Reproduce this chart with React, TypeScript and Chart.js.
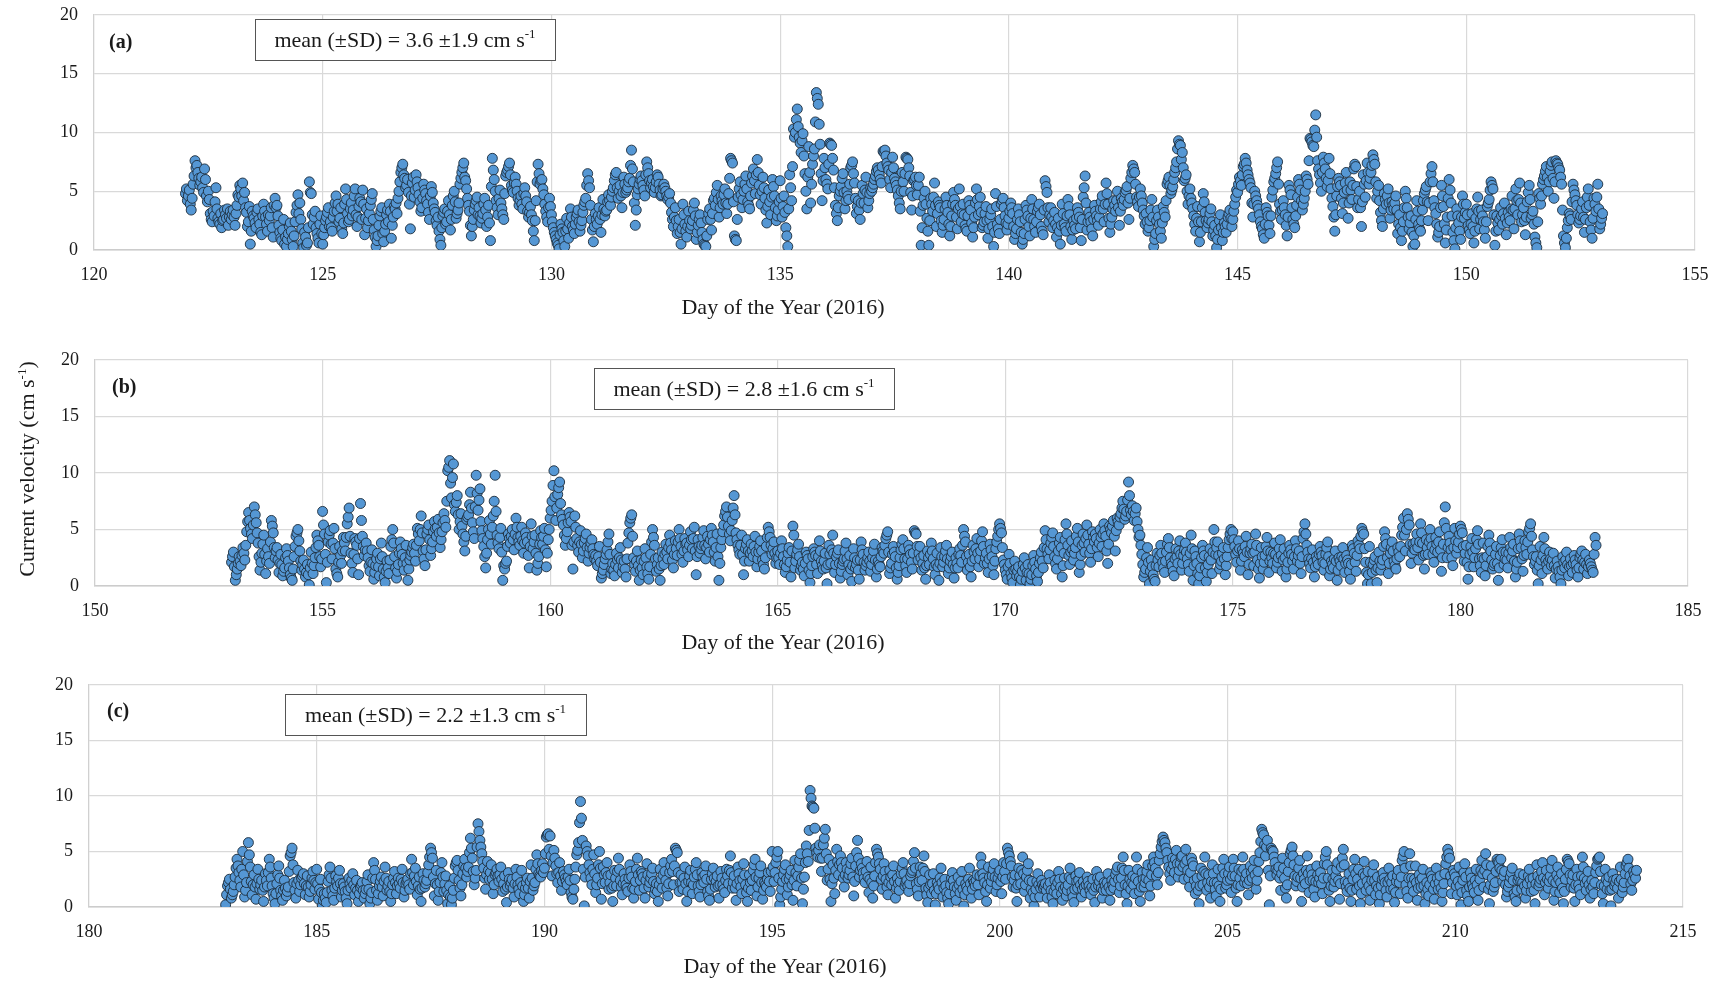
import React, { useEffect, useRef } from "react";
import { Chart, registerables } from "chart.js";

Chart.register(...registerables);

const FONT = "'Liberation Serif', 'Times New Roman', Times, serif";
const TEXT_COLOR = "#1a1a1a";

// ---------- Text ----------
const panelLabels = ["(a)", "(b)", "(c)"];
const meanTexts = ["mean (±SD) = 3.6 ±1.9 cm s", "mean (±SD) = 2.8 ±1.6 cm s", "mean (±SD) = 2.2 ±1.3 cm s"];
const unitSup = "-1";
const xAxisTitle = "Day of the Year (2016)";
const yAxisTitle = "Current velocity (cm s";
const yAxisTitleEnd = ")";

// ---------- Axes ----------
const xMins = [120, 150, 180];
const xMaxs = [155, 185, 215];
const xStep = 5;
const yMin = 0;
const yMax = 20;
const yStep = 5;

// ---------- Series (half-hourly current velocity, cm/s) ----------
const seriesStartDays = [122, 153, 183];
const samplesPerDay = 24; // on-the-hour arrays; "Half" arrays are the :30 readings

// Panel (a) – on the hour
const velocityA = [
  4.8,4.2,5.1,3.4,5.6,7.6,7.2,6.1,5.8,5.3,6.9,4.6,5.0,3.1,2.4,2.9,5.3,2.7,2.2,1.9,2.6,3.0,3.5,2.8,
  2.6,3.4,2.1,3.8,4.5,5.2,5.7,4.9,3.2,2.4,0.5,3.3,2.7,1.9,3.5,2.2,1.3,3.9,2.8,1.6,2.5,3.6,1.1,4.4,
  3.8,2.1,1.0,1.7,0.5,0.3,1.4,2.3,0.9,1.2,3.2,4.7,4.0,1.8,0.2,1.1,0.6,5.8,4.8,2.2,3.3,1.4,0.6,2.9,
  0.5,1.9,2.8,3.6,2.4,1.6,3.3,4.6,3.9,2.7,1.8,2.3,5.2,3.1,2.6,4.0,3.4,5.2,2.0,3.7,4.1,5.1,1.3,3.5,
  2.5,3.8,4.8,1.7,0.3,1.2,2.9,3.6,0.7,2.2,3.4,3.9,1.0,2.8,3.5,3.1,5.0,6.6,7.3,6.1,5.5,4.9,1.8,5.7,
  4.5,6.4,5.3,4.1,3.6,5.6,4.8,3.9,2.6,5.4,4.0,3.2,2.1,1.6,0.4,2.9,3.5,2.4,4.2,1.7,3.8,5.0,2.7,3.4,
  5.6,6.6,7.4,5.9,4.4,3.3,1.2,2.6,3.9,4.5,3.6,2.3,3.1,4.4,2.0,3.8,0.8,7.8,6.0,4.2,3.0,5.1,3.5,2.6,
  6.3,6.8,7.4,5.5,4.9,6.2,5.0,3.8,4.6,3.5,5.3,4.1,2.8,3.7,2.5,0.8,4.2,7.3,5.6,6.0,4.7,3.3,2.4,4.4,
  3.0,1.9,1.2,0.6,0.1,2.2,1.5,0.3,2.7,1.0,3.5,2.0,1.4,2.8,3.4,1.6,2.5,3.8,4.4,6.5,5.3,2.6,0.7,3.1,
  2.2,3.6,1.5,4.3,2.9,3.4,4.7,3.8,5.0,5.9,6.6,4.4,5.5,3.6,6.2,4.9,5.3,6.1,8.5,5.8,2.1,4.7,5.6,6.3,
  5.5,4.6,7.5,6.5,5.3,6.0,4.9,5.8,6.2,5.1,4.7,5.6,5.0,4.3,4.8,3.2,2.0,3.6,1.4,2.6,0.5,3.9,2.2,1.1,
  3.3,1.8,2.5,4.0,0.9,2.1,3.0,1.5,0.5,0.3,2.6,3.5,1.7,4.2,3.8,5.5,2.8,4.6,3.9,5.2,3.1,4.8,7.8,7.4,
  1.2,0.8,4.5,5.8,3.6,5.0,6.3,4.1,3.5,5.7,6.9,4.8,7.7,5.5,3.9,6.2,4.4,2.3,5.1,3.0,6.0,4.6,2.5,3.4,
  5.9,2.8,4.6,1.9,0.3,6.4,4.2,10.3,10.0,12.0,9.6,8.3,9.9,6.5,3.5,8.8,4.0,7.3,8.6,13.4,12.4,9.0,4.2,7.8,
  6.0,5.2,9.1,8.9,6.8,3.8,2.5,4.6,5.4,6.5,3.5,5.0,4.3,7.0,7.5,5.7,3.1,4.2,2.6,5.5,4.0,6.2,3.6,4.8,
  5.0,5.6,6.3,7.0,6.4,5.7,8.4,8.5,7.4,6.8,5.3,7.9,6.1,5.5,4.6,3.5,6.6,5.0,7.9,7.7,6.3,3.4,5.9,6.2,
  4.7,6.2,0.4,3.8,5.0,2.7,0.4,4.4,3.3,5.7,2.0,4.1,3.6,1.5,2.6,4.5,3.2,1.2,2.9,4.9,3.8,1.8,5.2,2.4,
  3.9,2.1,1.6,4.2,3.4,1.1,2.8,5.2,3.0,4.5,1.9,2.4,3.7,1.0,2.6,3.5,0.3,4.8,2.2,1.4,3.9,4.4,2.9,1.7,
  2.7,4.0,3.1,0.9,1.8,3.5,2.4,0.5,1.4,3.8,2.9,1.2,4.3,2.6,1.5,3.3,3.9,2.0,1.3,5.9,4.9,2.4,3.6,1.9,
  3.2,1.1,2.7,0.5,3.9,2.2,1.6,4.3,3.0,0.9,2.5,1.8,3.6,2.8,0.8,4.5,6.3,1.7,3.2,2.4,1.2,3.8,2.9,2.1,
  3.5,4.6,2.4,5.7,3.9,1.5,2.8,4.2,3.3,5.0,2.1,4.4,3.8,4.9,5.4,2.6,6.1,7.2,6.6,4.5,3.7,5.2,4.0,2.9,
  3.1,1.6,2.5,4.3,0.3,1.4,3.4,2.2,1.0,3.7,2.8,5.6,6.2,4.8,5.4,6.6,7.5,9.3,8.9,8.3,5.9,6.4,3.9,5.2,
  4.0,2.9,1.6,3.7,0.7,2.4,4.8,3.2,1.9,2.6,3.5,1.2,2.1,0.2,1.7,3.0,0.8,2.3,1.5,2.8,3.4,2.0,3.3,4.5,
  4.9,6.2,5.5,7.1,7.8,6.8,6.0,5.3,2.8,5.0,4.2,3.5,2.4,1.8,1.0,3.6,2.9,1.4,4.5,5.8,6.5,7.5,3.9,2.6,
  4.2,3.0,1.2,5.5,4.7,2.6,1.9,3.8,6.0,5.1,3.4,4.4,6.3,5.6,9.5,9.2,8.8,11.5,7.6,6.4,5.0,7.9,6.9,5.4,
  7.8,5.2,3.7,1.6,4.6,6.1,5.5,3.1,4.9,6.6,2.7,5.8,4.3,6.9,7.1,3.6,5.0,2.0,6.4,4.5,7.4,5.6,6.6,8.1,
  7.3,4.4,5.5,3.2,2.0,4.8,3.9,5.2,2.7,4.1,3.5,4.6,1.4,3.0,0.8,2.4,5.0,3.6,1.8,2.9,0.3,0.5,4.2,2.2,
  1.6,3.4,4.8,5.4,2.5,5.8,7.1,4.2,3.1,1.1,2.0,5.5,3.7,0.6,2.8,6.0,4.0,1.5,0.1,3.5,2.3,0.9,4.6,2.7,
  3.9,2.1,1.4,3.1,0.6,2.7,4.5,1.8,3.4,2.4,1.0,3.7,4.3,5.8,5.2,0.4,2.9,1.7,3.6,2.2,4.0,1.3,3.2,2.5,
  4.6,1.8,5.2,3.0,5.7,2.4,3.6,1.3,4.1,5.5,2.7,3.3,1.1,0.2,4.8,3.9,5.6,6.3,7.1,5.0,6.7,7.5,4.4,7.6,
  7.3,6.8,5.6,1.2,0.2,1.9,3.1,2.6,5.6,4.7,3.8,2.3,2.9,4.1,1.5,3.6,5.2,2.4,1.0,4.4,3.3,5.6,1.8,2.7,
];
// Panel (a) – half past the hour
const velocityAHalf = [
  5.2,4.6,3.9,4.4,6.3,7.0,6.6,5.5,6.2,4.9,6.0,4.1,4.3,2.6,3.3,4.1,3.5,2.4,3.1,2.5,3.4,2.7,2.1,3.3,
  3.0,2.8,3.1,4.7,5.5,4.6,4.2,3.6,2.0,3.7,1.6,2.9,2.3,3.2,2.6,1.5,2.9,3.3,2.2,3.0,2.9,1.9,3.8,3.6,
  2.9,1.5,0.8,2.6,1.1,0.9,2.0,1.6,0.3,2.4,3.8,3.1,2.6,0.6,1.5,0.4,1.9,4.9,3.0,2.8,1.9,1.0,2.2,1.4,
  1.3,2.5,3.2,2.0,1.9,2.8,4.0,3.3,2.4,3.6,1.4,3.9,4.3,2.4,3.5,2.9,4.6,3.0,2.8,4.4,2.6,3.9,2.7,1.9,
  3.1,4.3,2.6,1.1,0.8,2.1,3.3,1.4,1.6,3.0,2.4,3.3,2.1,3.7,4.0,4.4,5.8,7.0,6.4,5.3,6.0,3.9,4.6,6.2,
  5.1,5.8,4.7,3.3,4.4,5.1,4.2,3.2,4.6,4.9,3.5,2.5,2.8,0.9,1.9,3.2,2.2,3.3,3.0,2.6,4.6,4.1,3.1,4.0,
  6.1,7.0,6.2,5.2,3.8,2.1,2.0,3.4,4.2,3.0,2.9,2.7,3.9,3.4,2.8,2.3,5.4,6.8,5.0,3.6,4.4,4.0,3.0,4.8,
  6.6,7.1,6.4,5.1,5.7,5.6,4.4,4.2,3.9,4.8,4.6,3.3,3.2,3.0,1.6,2.5,5.8,6.5,5.9,5.2,3.9,2.8,3.6,3.7,
  2.4,1.5,0.9,0.4,1.3,1.8,0.8,1.6,1.8,2.3,2.8,1.7,2.2,3.1,2.4,2.1,3.2,4.1,5.5,5.9,3.8,1.7,2.0,2.6,
  2.9,2.6,3.0,3.5,3.3,4.1,4.2,4.5,5.3,6.4,5.3,5.0,4.6,4.9,5.6,5.1,5.8,7.2,6.9,4.0,3.4,5.2,6.0,5.9,
  5.1,6.4,7.0,5.9,5.7,5.4,5.3,6.4,5.6,4.6,5.2,5.3,4.6,4.5,4.0,2.6,2.8,2.5,2.0,1.5,1.8,3.0,1.6,2.0,
  2.5,2.1,3.4,2.9,1.5,2.6,2.3,0.9,0.4,1.2,3.1,2.6,3.1,4.4,4.9,4.3,3.6,4.2,4.7,4.0,3.9,6.1,7.6,4.1,
  0.9,2.6,5.2,4.7,4.3,5.6,5.2,3.8,4.6,6.3,5.9,6.4,6.6,4.7,5.0,5.3,3.4,3.7,4.1,4.5,5.4,3.6,2.9,4.1,
  4.4,3.7,3.2,1.2,3.5,5.3,7.1,9.6,11.1,10.5,9.1,9.3,8.0,5.0,6.2,6.6,5.6,8.0,10.9,12.9,10.7,6.5,5.9,7.0,
  5.6,7.3,9.0,7.8,5.3,3.1,3.6,5.0,6.1,4.9,4.2,4.6,5.6,7.2,6.5,4.4,3.7,3.4,4.0,4.8,5.1,4.9,4.2,5.3,
  5.3,6.0,6.7,6.8,6.0,7.1,8.3,8.0,7.1,6.0,6.6,7.0,5.8,5.1,4.0,5.0,5.8,6.5,7.8,7.0,4.9,4.6,6.0,5.5,
  5.5,3.3,1.9,4.4,3.9,1.6,2.5,3.9,4.5,3.8,3.1,3.8,2.5,2.1,3.5,3.8,2.2,2.0,3.9,4.3,2.8,3.5,3.7,3.1,
  3.0,1.8,2.9,3.8,2.3,1.9,4.0,4.3,3.7,3.2,2.1,3.1,2.5,1.8,3.0,2.0,1.5,3.7,1.8,2.6,4.2,3.6,2.3,2.2,
  3.3,3.6,2.0,1.4,2.6,3.0,1.5,0.9,2.6,3.4,2.0,2.7,3.5,2.0,2.4,3.6,3.0,1.6,3.4,5.4,3.6,3.0,2.8,2.5,
  2.2,1.9,1.6,2.1,3.1,1.9,2.9,3.7,2.0,1.7,2.1,2.7,3.2,1.9,2.6,5.3,4.0,2.4,2.8,1.8,2.6,3.3,2.5,2.8,
  4.1,3.5,3.9,4.8,2.7,2.2,3.5,3.8,4.2,3.6,3.3,4.1,4.3,5.1,4.0,4.4,6.6,6.9,5.6,4.1,4.5,4.6,3.4,2.2,
  2.4,1.9,3.4,2.8,0.9,2.5,2.8,1.6,2.3,3.2,4.2,5.9,5.5,5.1,6.0,7.0,8.6,9.0,7.7,7.0,6.1,5.0,4.6,4.4,
  3.5,2.2,2.7,2.4,1.5,3.6,4.1,2.5,2.3,3.1,2.4,1.7,1.2,0.9,2.5,1.9,1.5,2.0,2.2,3.1,2.7,2.6,3.9,5.1,
  5.6,5.9,6.4,7.3,7.4,6.4,5.7,4.0,3.9,4.6,3.8,3.0,2.0,1.3,2.2,3.2,2.1,2.9,5.1,6.1,7.0,5.6,3.3,3.4,
  3.6,2.1,2.8,5.1,3.6,2.2,2.9,4.5,5.6,4.2,3.9,5.0,6.0,7.6,9.4,8.9,10.2,9.6,6.9,5.7,6.6,7.4,6.1,5.9,
  6.5,4.4,2.8,3.0,5.4,5.8,4.4,4.0,5.7,5.1,4.0,5.1,5.5,7.3,5.4,4.3,3.6,4.1,5.6,5.9,6.6,6.1,7.2,7.7,
  5.8,5.0,4.2,2.5,3.5,4.3,4.6,4.0,3.4,3.8,4.0,3.4,2.2,1.9,1.6,3.6,4.4,2.8,2.3,1.5,1.2,2.6,3.3,1.8,
  2.5,4.2,5.1,4.1,4.0,6.5,5.8,3.6,2.2,1.5,3.6,4.6,2.2,1.7,4.4,5.1,2.9,0.8,1.9,2.9,1.6,2.8,3.9,3.2,
  3.0,1.7,2.2,2.0,1.6,3.5,3.3,2.6,2.9,1.7,2.4,4.0,5.1,5.5,3.0,1.6,2.3,2.6,2.9,3.1,2.7,2.3,2.8,3.5,
  3.4,3.5,4.2,4.3,4.0,3.0,2.5,2.8,4.9,4.3,3.0,2.2,0.6,2.4,4.4,4.6,6.0,6.7,6.2,5.8,7.2,6.1,5.8,7.4,
  7.0,6.2,3.4,0.6,1.0,2.5,2.9,4.1,5.1,4.2,3.0,2.6,3.5,2.8,2.6,4.5,3.8,1.7,2.7,3.9,4.5,3.5,2.2,3.1,
];

// Panel (b) – on the hour
const velocityB = [
  2.1,3.0,0.5,1.5,2.6,1.8,3.4,2.3,4.8,6.5,5.1,4.2,7.0,5.6,3.8,1.4,2.9,4.5,1.1,3.3,2.0,5.8,4.7,2.5,
  3.4,1.2,2.8,0.9,1.6,3.3,2.2,1.0,0.5,2.6,4.4,5.0,3.1,1.4,2.3,0.8,1.9,0.1,3.0,1.1,2.5,4.5,3.6,1.7,
  6.6,4.6,0.3,3.9,4.9,2.4,5.1,1.5,0.8,3.5,2.0,4.3,3.1,5.5,6.9,2.9,1.2,4.2,3.6,1.0,7.3,4.4,2.7,3.8,
  2.5,1.3,3.2,0.6,1.8,2.9,0.9,3.8,1.5,0.3,2.2,1.1,3.5,5.0,2.6,0.7,1.9,3.9,2.8,1.4,3.6,0.5,2.3,3.0,
  3.7,2.2,5.1,4.0,6.2,3.1,1.8,4.6,5.4,2.7,3.9,5.7,4.4,5.9,3.4,4.8,6.4,5.2,10.2,11.1,7.8,10.8,6.6,8.0,
  5.0,6.4,4.6,3.1,5.9,6.3,8.3,5.6,4.2,9.8,6.7,8.6,4.9,3.5,1.6,4.1,5.8,3.7,6.2,9.8,4.5,3.3,5.1,0.5,
  1.5,2.2,4.6,3.8,5.0,3.2,6.0,4.3,3.6,5.2,2.9,4.7,3.9,1.6,5.5,3.3,4.5,1.4,2.6,4.9,3.7,5.1,1.7,4.1,
  6.0,7.5,10.2,5.8,8.1,9.2,6.3,5.4,3.6,4.8,6.5,5.7,1.5,6.2,4.2,3.0,4.9,2.5,3.8,4.6,2.2,3.4,4.1,2.8,
  2.7,1.8,3.5,0.7,1.4,2.4,3.2,4.6,1.1,2.0,0.9,2.9,1.6,3.4,1.2,2.2,0.8,3.8,5.6,6.3,2.5,1.3,3.1,0.5,
  2.3,1.0,3.3,1.7,0.6,2.8,5.0,3.6,1.3,2.5,0.5,3.0,1.9,3.7,2.4,4.5,3.2,1.6,4.0,2.7,5.0,3.5,2.1,4.2,
  3.8,2.6,4.8,3.3,5.2,1.0,4.1,2.9,3.6,4.9,2.4,4.4,3.0,5.1,3.9,2.2,4.6,0.5,3.4,4.8,6.2,7.0,5.3,4.0,
  5.8,8.0,4.7,3.6,2.8,4.5,1.0,3.3,4.1,2.2,3.7,2.6,4.4,1.7,3.0,4.0,2.3,1.5,3.5,5.2,4.3,2.8,3.9,2.0,
  3.1,1.9,4.0,2.6,1.2,2.3,3.4,0.8,5.3,1.6,2.8,3.7,1.4,2.1,0.9,3.0,2.4,0.3,1.8,3.3,2.7,1.1,4.0,2.2,
  1.5,2.9,0.2,3.6,2.0,4.5,1.2,2.6,3.2,0.7,1.9,2.4,3.8,1.0,2.7,0.4,3.3,1.6,2.3,0.6,3.9,2.8,1.4,2.1,
  3.0,1.3,2.5,3.7,0.8,2.2,1.7,3.4,2.9,4.2,4.8,1.1,2.0,3.5,2.6,0.6,1.8,3.2,4.1,2.4,1.2,3.6,2.8,1.5,
  4.9,4.6,2.3,3.5,1.4,2.7,0.6,3.1,1.9,3.8,2.4,1.0,2.9,0.5,3.4,1.7,2.6,3.6,1.1,2.2,3.0,0.7,2.5,1.6,
  3.3,2.1,5.0,3.9,1.4,2.8,0.8,3.6,2.4,4.2,1.7,3.1,4.8,2.0,2.9,1.2,3.7,2.6,1.0,3.3,4.4,5.5,4.7,2.3,
  1.4,0.6,2.8,1.1,0.3,2.2,0.9,1.7,0.1,1.3,2.5,0.5,1.9,0.2,1.0,2.7,1.5,0.4,2.0,3.0,1.6,4.9,3.3,2.4,
  3.8,4.7,2.6,1.5,3.1,4.3,0.8,2.9,5.5,3.6,1.9,4.0,2.3,3.4,5.1,1.2,2.7,4.6,3.0,5.4,3.7,2.1,4.8,3.9,
  4.2,2.6,5.0,3.5,5.5,4.4,2.0,5.3,4.7,5.8,3.1,6.0,5.4,6.4,7.5,5.9,6.6,9.2,6.7,7.1,5.8,6.9,5.0,4.5,
  2.8,0.8,1.5,3.4,0.2,2.3,1.0,0.4,2.9,1.7,3.6,2.1,1.2,3.0,4.2,2.5,1.8,0.9,3.3,2.0,4.0,1.4,2.7,3.8,
  2.4,1.3,4.5,0.5,3.1,2.0,0.2,1.6,3.6,2.7,0.4,1.9,3.3,1.1,5.0,2.8,3.9,1.5,2.2,3.4,1.0,2.6,4.1,5.0,
  4.8,3.5,2.1,4.0,1.4,3.2,2.6,4.4,1.0,2.9,3.7,1.8,4.6,2.3,0.7,3.4,1.5,2.7,4.3,1.2,3.0,2.0,3.8,1.6,
  2.5,4.1,1.3,3.3,0.8,2.1,3.6,2.8,1.5,4.0,2.2,3.1,1.1,4.2,5.5,3.6,2.4,1.6,3.2,0.8,2.6,1.9,3.5,2.7,
  1.4,2.8,3.9,0.9,2.2,1.6,3.1,0.5,2.5,1.8,3.4,1.2,2.7,2.0,0.6,3.6,2.9,1.3,4.0,3.3,5.1,4.6,2.1,0.2,
  3.5,0.2,1.9,2.6,0.3,3.0,1.4,2.3,4.8,3.7,1.1,2.9,3.9,2.2,1.5,3.4,2.6,4.5,6.0,3.1,6.4,5.4,2.0,3.7,
  3.2,4.6,2.3,5.5,3.8,1.5,4.1,2.8,5.0,3.5,2.1,4.3,3.0,4.8,1.3,3.7,7.0,2.5,4.4,3.2,1.8,5.1,2.9,3.9,
  5.3,4.7,2.2,3.6,0.6,2.8,4.2,1.7,3.3,4.9,2.4,1.2,3.8,0.9,2.6,4.5,3.1,1.5,2.0,3.5,0.5,2.7,4.1,1.9,
  3.0,1.6,4.3,2.5,3.7,0.8,2.1,4.6,3.4,1.3,4.0,2.8,4.8,5.5,3.2,1.9,2.6,0.2,3.5,1.1,4.3,2.3,1.5,3.0,
  1.8,2.9,0.7,2.2,1.3,0.2,2.6,1.6,3.0,0.9,2.4,1.2,2.7,1.9,0.8,2.5,3.1,1.5,2.8,1.1,2.3,1.7,1.2,4.3,
];
// Panel (b) – half past the hour
const velocityBHalf = [
  2.6,1.7,1.0,2.0,2.2,2.7,2.9,3.6,5.7,5.8,4.6,5.4,6.3,4.7,2.6,2.1,3.7,2.8,2.2,2.6,3.9,5.3,3.4,3.1,
  2.3,2.0,1.9,1.3,2.5,2.7,1.6,0.7,1.5,3.5,4.7,4.0,2.2,1.9,1.5,1.2,1.0,1.6,2.0,1.8,3.4,4.0,2.6,2.4,
  5.4,2.8,2.1,4.5,3.7,3.8,3.3,1.1,2.1,2.7,3.1,3.8,4.3,6.1,4.4,2.0,2.8,3.9,2.4,4.2,5.8,3.5,3.2,3.1,
  1.8,2.1,2.0,1.2,2.4,1.7,2.4,2.6,0.8,1.3,1.6,2.3,4.1,3.8,1.6,1.3,2.9,3.3,2.0,2.5,2.0,1.5,2.7,3.4,
  2.9,3.6,4.6,5.0,4.7,2.4,3.2,5.0,4.1,3.3,4.8,5.1,5.2,4.7,4.1,5.6,5.8,7.5,10.5,9.1,9.6,7.2,7.4,6.3,
  5.7,5.3,3.9,4.4,6.1,7.2,6.9,4.8,7.0,8.2,7.6,5.7,4.2,2.6,2.9,5.0,4.6,5.2,7.5,6.6,3.8,4.3,3.0,1.8,
  2.0,3.5,4.2,4.4,4.1,4.6,5.2,3.9,4.4,4.0,3.8,4.3,2.7,3.5,4.4,3.9,2.9,2.0,3.7,4.3,4.4,3.2,2.9,5.0,
  6.7,8.9,7.9,6.9,8.7,7.3,5.9,4.5,4.2,5.6,6.1,3.6,3.9,5.2,3.6,3.9,3.7,3.1,4.2,3.4,2.9,3.8,3.3,2.4,
  2.2,2.6,2.1,1.1,1.9,2.8,3.9,2.8,1.5,1.4,1.9,2.3,2.5,2.3,1.7,1.5,2.4,4.7,6.0,4.4,1.9,2.2,1.8,1.4,
  1.6,2.2,2.5,1.1,1.7,3.9,4.3,2.4,1.9,1.5,1.8,2.4,2.8,3.0,3.4,3.8,2.3,2.8,3.3,3.9,4.2,2.8,3.1,3.7,
  3.2,3.6,4.1,4.2,3.1,2.6,3.5,3.3,4.3,3.6,3.4,3.7,4.1,4.5,3.0,3.4,2.6,2.0,4.1,5.4,6.6,6.1,4.6,4.9,
  6.9,6.3,4.1,3.2,3.6,2.8,2.2,3.7,3.1,2.9,3.1,3.5,3.0,2.4,3.5,3.1,1.9,2.5,4.3,4.8,3.6,3.3,2.9,2.5,
  2.5,2.9,3.3,1.9,1.7,2.9,2.1,3.1,4.5,2.2,3.2,2.6,1.8,1.5,2.0,2.7,1.4,1.1,2.6,3.0,1.9,2.6,3.1,1.8,
  2.2,1.6,1.9,2.8,3.2,2.9,1.9,2.9,2.0,1.3,2.2,3.1,2.4,1.9,1.5,1.8,2.5,1.9,1.4,2.3,3.2,2.1,1.8,2.5,
  2.2,1.9,3.1,2.3,1.5,1.9,2.6,3.1,3.6,4.5,3.0,1.6,2.8,3.0,1.6,1.2,2.5,3.7,3.3,1.8,2.4,3.2,2.1,2.9,
  4.7,3.5,2.9,2.5,2.0,1.6,1.8,2.5,2.8,3.1,1.7,1.9,1.7,2.0,2.6,2.1,3.1,2.4,1.6,2.6,1.9,1.6,2.0,2.8,
  2.7,3.6,4.4,2.6,2.1,1.7,2.2,3.0,3.3,2.9,2.4,4.0,3.5,2.5,2.0,2.4,3.2,1.8,2.2,3.9,5.0,5.1,3.4,1.9,
  1.0,1.7,2.0,0.7,1.4,1.5,1.3,0.8,0.6,1.9,1.6,1.2,1.1,0.6,1.8,2.1,0.9,1.2,2.5,2.2,3.4,4.1,2.8,3.2,
  4.3,3.5,2.0,2.4,3.8,3.4,1.8,4.1,4.6,2.7,3.0,3.2,2.9,4.4,3.9,1.9,3.6,3.8,4.2,4.5,2.9,3.3,4.3,4.6,
  3.4,3.8,4.3,4.6,4.9,3.1,3.7,5.0,5.3,4.4,4.9,5.7,6.1,6.9,6.8,6.2,7.6,8.0,6.3,6.6,6.4,5.7,4.3,3.6,
  1.9,1.2,2.5,2.1,1.3,1.7,0.6,1.8,2.3,2.7,2.9,1.6,2.2,3.7,3.4,2.0,1.3,2.4,2.6,3.1,2.8,2.0,3.2,3.0,
  1.9,2.9,3.3,1.8,2.6,1.1,0.9,2.5,3.1,1.6,1.2,2.6,2.3,3.0,3.9,3.4,2.7,1.9,2.9,2.4,1.8,3.4,4.6,4.2,
  4.1,2.8,3.1,3.3,2.2,2.9,3.5,3.0,1.9,3.3,2.9,3.0,3.6,1.5,2.0,2.6,2.1,3.5,3.1,2.2,2.5,2.9,2.8,2.1,
  3.3,2.7,2.3,2.5,1.5,2.9,3.2,2.2,2.6,3.3,2.7,2.0,2.6,4.8,4.6,3.0,2.0,2.4,2.1,1.7,2.3,2.8,3.0,2.1,
  2.0,3.4,2.6,1.5,1.9,2.4,2.2,1.4,2.2,2.6,2.4,2.0,2.3,1.3,1.9,3.3,2.1,2.7,3.6,4.4,4.8,3.3,1.2,1.0,
  2.1,1.2,2.3,1.4,1.6,2.2,1.9,3.5,4.2,2.5,2.0,3.4,3.1,1.8,2.4,3.0,3.5,5.2,4.5,5.0,5.9,3.7,2.9,3.3,
  3.9,3.4,3.9,4.7,2.7,2.8,3.4,3.9,4.2,2.8,3.2,3.7,3.9,3.2,2.5,5.6,5.1,3.4,3.8,2.5,3.4,4.0,3.4,4.6,
  5.0,3.5,2.9,2.1,1.7,3.5,3.0,2.5,4.1,3.7,1.8,2.5,2.4,1.8,3.5,3.8,2.3,1.8,2.8,2.0,1.6,3.4,3.0,2.4,
  2.3,2.9,3.4,3.1,2.2,1.5,3.3,4.0,2.4,2.7,3.4,3.9,5.1,4.4,2.6,2.2,1.4,1.8,2.3,2.7,3.3,1.9,2.2,2.4,
  2.3,1.8,1.5,1.7,0.8,1.4,2.1,2.3,1.9,1.7,1.8,2.0,2.3,1.4,1.6,2.8,2.3,2.1,1.9,1.7,2.0,1.4,2.8,3.6,
];

// Panel (c) – on the hour
const velocityC = [
  0.2,1.9,2.5,0.8,1.4,2.7,4.3,3.1,1.8,5.0,0.9,2.2,5.8,3.6,1.1,2.9,0.7,3.4,1.6,2.4,0.5,3.0,1.9,4.3,
  2.6,1.2,0.3,2.1,3.7,1.5,0.6,2.4,1.0,1.8,4.6,5.3,2.2,0.8,3.3,1.4,2.6,3.0,1.1,2.8,0.9,2.0,3.2,1.6,
  3.4,0.7,2.5,0.1,1.2,0.4,2.3,3.6,1.5,0.6,2.8,1.9,3.3,0.9,2.1,1.4,0.3,2.6,1.7,3.0,1.1,2.4,0.5,1.8,
  2.2,0.8,1.6,2.9,0.3,1.3,4.0,2.5,0.6,1.9,2.7,1.0,3.6,1.5,2.3,0.5,2.0,3.2,1.2,2.6,1.7,3.4,0.9,2.1,
  2.5,1.6,4.3,2.0,3.5,1.1,2.7,0.5,3.0,1.8,2.4,3.8,5.3,4.4,1.0,3.3,0.6,2.2,4.0,1.4,2.8,0.3,1.9,0.2,
  1.5,3.7,4.2,2.4,1.0,3.0,4.3,2.7,3.6,6.2,4.4,2.0,3.3,7.5,6.0,4.8,3.5,1.6,4.1,2.5,3.8,1.2,2.9,3.4,
  2.3,3.6,1.4,2.8,0.4,3.1,1.9,2.5,0.9,3.4,2.0,1.2,3.3,0.5,1.7,2.6,0.8,3.8,1.5,2.2,4.7,3.0,2.7,3.9,
  3.5,6.3,6.6,6.4,2.8,5.1,3.7,2.2,4.0,1.5,3.2,2.6,2.0,3.4,1.3,0.7,2.5,4.7,5.8,9.5,6.0,0.1,5.5,4.6,
  3.1,2.0,4.7,1.3,2.6,5.0,0.7,3.6,2.2,4.0,1.6,2.9,0.5,3.3,1.9,4.4,2.4,1.1,3.0,2.0,1.4,3.8,2.7,0.8,
  2.3,4.4,1.5,3.2,2.7,0.8,3.9,1.8,2.6,3.5,1.2,2.1,0.5,3.4,1.7,4.0,2.4,1.0,3.1,4.3,2.0,5.3,4.9,1.4,
  2.9,1.6,3.6,0.5,2.3,3.3,1.2,2.7,4.0,1.9,0.9,3.1,2.2,3.7,1.4,0.6,2.5,3.5,1.8,2.8,0.8,3.2,2.0,1.3,
  3.4,2.1,4.6,1.7,2.8,0.6,3.6,2.4,1.2,3.9,2.0,0.5,2.9,1.5,3.3,4.3,1.0,2.6,3.7,0.7,2.2,1.8,3.1,1.4,
  5.0,2.3,4.0,5.0,0.2,1.6,2.9,3.8,1.1,2.5,3.3,0.6,4.2,1.9,3.6,4.8,0.3,2.7,5.5,4.1,10.5,9.1,8.9,5.3,
  4.5,5.6,3.2,5.6,7.0,2.4,4.3,0.5,3.8,1.2,5.2,2.9,4.6,3.5,1.8,4.0,2.6,3.3,4.4,1.0,3.7,6.0,2.7,3.9,
  3.1,2.2,4.1,1.3,3.6,0.8,2.8,5.2,4.5,3.4,1.6,3.9,2.5,1.1,3.3,2.0,3.7,0.8,2.6,1.5,3.0,4.0,1.9,2.4,
  1.4,2.8,3.3,4.9,2.1,1.0,3.6,2.4,4.6,1.7,0.4,2.9,1.2,3.0,0.2,2.2,1.6,3.5,0.9,2.5,1.3,0.3,2.0,3.1,
  1.8,0.6,2.7,1.3,3.2,0.1,2.1,1.5,3.5,0.8,2.4,1.9,2.9,1.1,4.5,3.0,2.2,0.5,3.6,1.7,2.8,3.9,1.4,2.6,
  3.3,1.2,4.0,2.5,5.3,4.6,3.7,1.8,2.9,0.5,3.5,2.1,4.5,1.4,2.7,3.9,0.8,2.3,0.1,1.6,3.0,0.9,2.4,1.7,
  2.1,0.8,2.9,1.5,0.3,2.4,1.2,3.2,1.8,0.6,2.6,1.0,2.0,3.5,1.4,0.4,2.8,1.7,3.1,0.9,2.3,1.3,2.7,1.9,
  1.1,2.5,0.4,3.2,1.9,2.7,0.8,2.2,1.5,3.0,0.6,2.4,1.7,2.9,3.6,1.3,2.6,4.5,2.0,0.3,3.3,1.6,2.8,1.2,
  4.5,2.3,0.5,3.1,1.8,2.6,3.8,1.0,2.9,4.5,3.5,2.0,4.2,5.4,6.3,5.8,4.9,3.6,2.4,4.4,3.1,5.1,2.7,3.9,
  4.6,2.5,5.2,3.3,1.8,4.4,3.7,1.2,2.6,0.3,3.5,2.0,4.5,1.5,2.9,0.8,3.8,2.2,1.0,3.4,0.5,2.7,4.3,1.7,
  2.4,3.6,1.3,4.3,2.8,0.5,3.4,1.9,4.5,2.2,3.0,1.1,3.7,2.6,4.2,1.6,3.2,4.9,7.0,6.5,4.6,6.0,0.2,5.3,
  5.0,4.0,2.9,3.6,1.5,4.4,2.6,0.8,3.2,4.8,5.4,3.8,1.9,2.7,4.2,0.5,3.0,2.1,4.6,1.3,3.4,2.4,0.9,3.7,
  2.2,3.1,1.2,3.9,5.0,2.6,0.5,3.3,1.8,2.8,4.0,0.7,3.6,5.2,2.3,1.4,3.0,0.5,2.5,4.3,1.6,3.4,0.3,2.1,
  4.1,1.5,3.2,0.6,2.4,3.8,1.1,2.7,0.3,1.9,3.1,2.2,0.9,3.5,1.6,2.8,0.4,2.3,3.3,1.2,4.2,5.0,2.0,0.8,
  4.8,2.6,1.4,3.7,0.6,2.9,1.8,3.4,0.3,2.2,1.0,3.1,2.5,0.7,3.5,1.6,2.8,0.5,2.1,3.9,5.2,4.4,1.2,3.3,
  2.7,1.1,3.6,0.2,2.4,3.9,1.5,0.5,3.1,2.0,1.3,3.4,0.6,2.5,4.2,1.8,4.8,2.9,0.3,3.7,1.4,2.2,4.3,4.0,
  4.3,2.3,3.2,0.9,1.8,2.7,3.5,1.2,0.5,2.4,3.0,1.6,2.9,0.8,2.1,3.4,1.4,2.6,0.3,3.8,1.9,2.5,4.0,1.1,
  3.3,1.7,2.8,4.2,0.6,2.2,3.6,1.3,3.0,0.3,2.5,4.3,3.9,1.8,2.9,0.5,3.4,2.0,1.1,4.5,2.6,1.5,3.2,0.8,
  2.4,1.2,3.1,4.3,4.5,2.0,0.3,3.4,1.6,2.7,0.1,3.0,1.9,2.5,0.8,3.6,1.3,2.2,3.7,4.3,2.8,1.5,3.2,2.6,
];
// Panel (c) – half past the hour
const velocityCHalf = [
  1.1,2.2,1.6,1.1,2.0,3.5,3.7,2.4,3.4,2.9,1.5,4.1,4.7,2.3,2.0,1.8,2.1,2.5,2.0,1.5,1.8,2.4,3.1,3.6,
  1.9,0.8,1.2,2.9,2.6,1.0,1.5,1.7,1.4,3.2,4.9,3.8,1.5,2.1,2.4,2.0,2.8,2.1,1.9,1.8,1.4,2.6,2.4,2.2,
  2.1,1.6,1.3,0.6,0.8,1.3,2.9,2.6,1.0,1.7,2.3,2.6,2.1,1.5,1.8,0.8,1.5,2.1,2.4,2.0,1.7,1.5,1.2,2.0,
  1.5,1.2,2.3,1.6,0.8,2.6,3.3,1.5,1.2,2.3,1.8,2.3,2.6,1.9,1.4,1.2,2.6,2.2,1.9,2.1,2.5,2.2,1.5,2.3,
  2.0,3.0,3.1,2.8,2.3,1.9,1.6,1.7,2.4,2.1,3.1,4.5,4.9,2.7,2.1,2.0,1.4,3.1,2.7,2.1,1.5,1.1,0.9,0.8,
  2.6,4.0,3.3,1.7,2.0,3.7,3.5,3.2,4.9,5.3,3.2,2.6,5.4,6.8,5.4,4.1,2.6,2.9,3.3,3.1,2.5,2.0,3.1,2.8,
  2.9,2.5,2.1,1.6,1.8,2.5,2.2,1.7,2.1,2.7,1.6,2.2,1.9,1.1,2.2,1.7,2.3,2.6,1.9,3.4,3.9,2.8,3.3,3.1,
  4.8,6.5,5.2,4.6,4.0,4.4,3.0,3.1,2.8,2.3,2.9,2.3,2.7,2.4,0.9,1.6,3.6,5.1,7.6,8.0,3.4,2.7,5.0,3.8,
  2.6,3.4,3.0,2.0,3.8,3.5,2.1,2.9,3.1,2.8,2.2,1.7,1.9,2.6,3.2,3.4,1.8,2.1,2.5,1.7,2.6,3.2,1.7,1.6,
  3.4,2.9,2.4,3.0,1.7,2.4,2.9,2.2,3.0,2.3,1.6,1.4,2.0,2.5,2.9,3.2,1.7,2.1,3.7,3.2,3.7,5.1,3.1,2.2,
  2.2,2.6,2.1,1.4,2.8,2.2,2.0,3.4,2.9,1.4,2.0,2.7,2.9,2.5,1.0,1.6,3.0,2.6,2.3,1.9,2.0,2.6,1.6,2.4,
  2.8,3.3,3.1,2.2,1.7,2.1,3.0,1.8,2.5,2.9,1.3,1.7,2.2,2.4,3.8,2.7,1.8,3.1,2.2,1.5,2.0,2.5,2.3,3.2,
  3.6,3.1,4.5,2.6,0.9,2.3,3.4,2.5,1.8,2.9,2.0,2.4,3.1,2.8,4.2,2.6,1.6,4.0,4.8,6.9,9.8,9.0,7.1,4.9,
  5.1,4.4,4.4,6.2,4.8,3.4,2.5,2.1,2.6,3.3,4.1,3.8,4.0,2.6,2.9,3.4,2.9,3.9,2.7,2.3,4.9,4.4,3.3,3.5,
  2.6,3.2,2.7,2.5,2.2,1.9,4.0,4.8,3.9,2.5,2.8,3.2,1.8,2.2,2.7,2.9,2.3,1.7,2.1,2.3,3.5,3.0,2.2,1.9,
  2.1,3.1,4.1,3.5,1.6,2.3,3.0,3.5,3.2,1.1,1.7,2.0,2.1,1.5,1.2,1.9,2.6,2.2,1.7,1.9,0.8,1.2,2.6,2.4,
  1.2,1.7,2.0,2.3,1.6,1.1,1.8,2.5,2.1,1.6,2.2,2.4,2.0,2.8,3.8,2.6,1.4,2.0,2.7,2.3,3.4,2.7,2.0,3.1,
  2.3,2.7,3.2,3.9,4.9,4.1,2.7,2.4,1.7,2.0,2.8,3.3,3.0,2.0,3.3,2.4,1.6,1.3,0.9,2.3,2.0,1.7,2.0,1.9,
  1.5,1.9,2.2,0.9,1.4,1.8,2.2,2.5,1.2,1.6,1.8,1.5,2.7,2.5,0.9,1.6,2.3,2.4,2.0,1.6,1.8,2.0,2.3,1.5,
  1.8,1.5,1.8,2.6,2.3,1.7,1.5,1.9,2.2,1.8,1.5,2.0,2.3,3.3,2.5,1.9,3.5,3.3,1.2,1.9,2.5,2.2,2.0,2.6,
  3.4,1.4,1.8,2.5,2.2,3.2,2.4,1.9,3.7,4.0,2.8,3.1,4.8,5.9,6.0,5.3,4.2,3.0,3.4,3.8,4.3,3.9,3.3,4.5,
  3.6,3.9,4.2,2.6,3.1,4.0,2.4,1.9,1.5,1.9,2.8,3.2,3.0,2.2,1.8,2.3,3.0,1.6,2.2,1.9,1.6,3.5,3.0,2.0,
  3.0,2.5,2.8,3.5,1.7,2.0,2.6,3.2,3.4,2.6,2.1,2.4,3.1,3.4,2.9,2.4,4.1,5.9,6.7,5.6,5.4,3.3,2.8,5.1,
  4.5,3.4,3.3,2.6,3.0,3.5,1.7,2.0,4.0,5.1,4.6,2.8,2.3,3.5,2.6,1.8,2.5,3.3,3.0,2.4,2.9,1.6,2.3,2.9,
  2.6,2.1,2.6,4.5,3.8,1.5,1.9,2.5,2.3,3.4,2.4,2.1,4.4,3.8,1.8,2.2,1.7,1.5,3.4,3.0,2.5,1.9,1.2,3.0,
  2.8,2.3,1.9,1.5,3.1,2.4,1.9,1.7,1.1,2.5,2.6,1.5,2.2,2.5,2.2,1.6,1.3,2.8,2.2,2.7,4.6,3.5,1.4,2.6,
  3.7,2.0,2.5,2.2,1.7,2.4,2.6,1.9,1.2,1.6,2.0,2.8,1.6,2.1,2.6,2.2,1.7,1.3,3.0,4.5,4.8,2.8,2.2,3.0,
  1.9,2.3,1.9,1.3,3.1,2.7,1.0,1.8,2.6,1.7,2.4,2.0,1.5,3.3,3.0,3.3,3.8,1.6,2.0,2.6,1.8,3.2,4.1,3.5,
  3.3,2.8,2.0,1.4,2.2,3.1,2.4,0.9,1.5,2.7,2.3,2.2,1.9,1.5,2.8,2.5,2.0,1.5,2.1,2.8,2.2,3.2,2.6,2.2,
  2.5,2.3,3.5,2.4,1.4,2.9,2.5,2.2,1.7,1.4,3.4,4.1,2.9,2.4,1.7,2.0,2.7,1.6,2.8,3.6,2.1,2.4,2.0,1.6,
  1.8,2.2,3.7,4.4,3.2,1.2,1.9,2.5,2.2,1.5,1.6,2.4,2.2,1.7,2.3,2.5,1.8,3.0,4.0,3.5,2.1,2.4,2.9,3.3,
];

const hourlySeries = [velocityA, velocityB, velocityC];
const halfHourSeries = [velocityAHalf, velocityBHalf, velocityCHalf];

// ---------- Layout (presentation only) ----------
type Layout = {
  top: number; height: number; yAxisWidth: number; xAxisHeight: number;
  padTop: number; padRight: number;
  labelX: number; labelY: number;
  box: { x: number; y: number; w: number; h: number };
  titleX: number; titleY: number;
  yTitle?: { x: number; y: number };
};

const layouts: Layout[] = [
  { top: 0, height: 330, yAxisWidth: 94, xAxisHeight: 80, padTop: 15, padRight: 26,
    labelX: 109, labelY: 43, box: { x: 255, y: 19, w: 300, h: 41 }, titleX: 783, titleY: 308 },
  { top: 330, height: 330, yAxisWidth: 95, xAxisHeight: 74, padTop: 30, padRight: 33,
    labelX: 112, labelY: 58, box: { x: 594, y: 38, w: 300, h: 41 }, titleX: 783, titleY: 313,
    yTitle: { x: 27, y: 139 } },
  { top: 660, height: 322, yAxisWidth: 89, xAxisHeight: 75, padTop: 25, padRight: 38,
    labelX: 107, labelY: 52, box: { x: 285, y: 34, w: 301, h: 41 }, titleX: 785, titleY: 307 },
];

function drawSupText(ctx: CanvasRenderingContext2D, main: string, sup: string, end: string,
  cx: number, cy: number, size: number) {
  ctx.font = `${size}px ${FONT}`;
  const wMain = ctx.measureText(main).width;
  const wEnd = end ? ctx.measureText(end).width : 0;
  const supSize = Math.round(size * 0.6);
  ctx.font = `${supSize}px ${FONT}`;
  const wSup = ctx.measureText(sup).width;
  const total = wMain + wSup + wEnd;
  let x = cx - total / 2;
  const base = cy + size * 0.32;
  ctx.textAlign = "left";
  ctx.textBaseline = "alphabetic";
  ctx.font = `${size}px ${FONT}`;
  ctx.fillText(main, x, base);
  x += wMain;
  ctx.font = `${supSize}px ${FONT}`;
  ctx.fillText(sup, x, base - size * 0.38);
  x += wSup;
  if (end) {
    ctx.font = `${size}px ${FONT}`;
    ctx.fillText(end, x, base);
  }
}

function makeDecor(idx: number) {
  const L = layouts[idx];
  return {
    id: "decor" + idx,
    afterDatasetsDraw(chart: any) {
      const ctx: CanvasRenderingContext2D = chart.ctx;
      ctx.save();
      ctx.fillStyle = TEXT_COLOR;
      ctx.font = `bold 20px ${FONT}`;
      ctx.textAlign = "left";
      ctx.textBaseline = "middle";
      ctx.fillText(panelLabels[idx], L.labelX, L.labelY);
      ctx.fillStyle = "#ffffff";
      ctx.fillRect(L.box.x, L.box.y, L.box.w, L.box.h);
      ctx.strokeStyle = "#555555";
      ctx.lineWidth = 1;
      ctx.strokeRect(L.box.x + 0.5, L.box.y + 0.5, L.box.w, L.box.h);
      ctx.fillStyle = TEXT_COLOR;
      drawSupText(ctx, meanTexts[idx], unitSup, "", L.box.x + L.box.w / 2, L.box.y + L.box.h / 2, 22);
      ctx.font = `22px ${FONT}`;
      ctx.textAlign = "center";
      ctx.textBaseline = "middle";
      ctx.fillText(xAxisTitle, L.titleX, L.titleY);
      if (L.yTitle) {
        ctx.save();
        ctx.translate(L.yTitle.x, L.yTitle.y);
        ctx.rotate(-Math.PI / 2);
        drawSupText(ctx, yAxisTitle, unitSup, yAxisTitleEnd, 0, 0, 22);
        ctx.restore();
      }
      ctx.restore();
    },
  };
}

function buildPoints(idx: number) {
  const start = seriesStartDays[idx];
  const pts: { x: number; y: number }[] = [];
  hourlySeries[idx].forEach((v, i) => pts.push({ x: start + i / samplesPerDay, y: v }));
  halfHourSeries[idx].forEach((v, i) => pts.push({ x: start + (i + 0.5) / samplesPerDay, y: v }));
  pts.sort((a, b) => a.x - b.x);
  return pts;
}

function makeConfig(idx: number): any {
  const L = layouts[idx];
  const gridColor = "#d9d9d9";
  return {
    type: "scatter",
    data: {
      datasets: [{
        data: buildPoints(idx),
        pointRadius: 5,
        pointHoverRadius: 5,
        pointBackgroundColor: "#5597d4",
        pointBorderColor: "#1c2b3a",
        pointBorderWidth: 0.9,
        showLine: false,
      }],
    },
    options: {
      animation: false,
      responsive: false,
      devicePixelRatio: 1,
      events: [],
      layout: { padding: { left: 0, right: L.padRight, top: L.padTop, bottom: 0 } },
      plugins: { legend: { display: false }, tooltip: { enabled: false }, title: { display: false } },
      scales: {
        x: {
          type: "linear",
          min: xMins[idx],
          max: xMaxs[idx],
          ticks: { stepSize: xStep, padding: 14, color: TEXT_COLOR, font: { family: FONT, size: 18 } },
          grid: { color: gridColor, lineWidth: 1.2, drawTicks: false },
          border: { color: "#cccccc", width: 1.5 },
          afterFit: (s: any) => { s.height = L.xAxisHeight; s.paddingLeft = 0; s.paddingRight = 0; },
        },
        y: {
          type: "linear",
          min: yMin,
          max: yMax,
          ticks: { stepSize: yStep, padding: 16, color: TEXT_COLOR, font: { family: FONT, size: 18 } },
          grid: { color: gridColor, lineWidth: 1.2, drawTicks: false },
          border: { color: "#d0d0d0", width: 1.2 },
          afterFit: (s: any) => { s.width = L.yAxisWidth; s.paddingTop = 0; s.paddingBottom = 0; },
        },
      },
    },
    plugins: [makeDecor(idx)],
  };
}

export default function App() {
  const r0 = useRef<HTMLCanvasElement>(null);
  const r1 = useRef<HTMLCanvasElement>(null);
  const r2 = useRef<HTMLCanvasElement>(null);

  useEffect(() => {
    const refs = [r0, r1, r2];
    const charts = refs.map((r, i) => new Chart(r.current as HTMLCanvasElement, makeConfig(i)));
    return () => charts.forEach((c) => c.destroy());
  }, []);

  const refs = [r0, r1, r2];
  return (
    <div style={{ position: "absolute", left: 0, top: 0, width: 1721, height: 982, background: "#ffffff", overflow: "hidden" }}>
      {layouts.map((L, i) => (
        <canvas
          key={i}
          ref={refs[i]}
          width={1721}
          height={L.height}
          style={{ position: "absolute", left: 0, top: L.top, width: 1721, height: L.height }}
        />
      ))}
    </div>
  );
}
